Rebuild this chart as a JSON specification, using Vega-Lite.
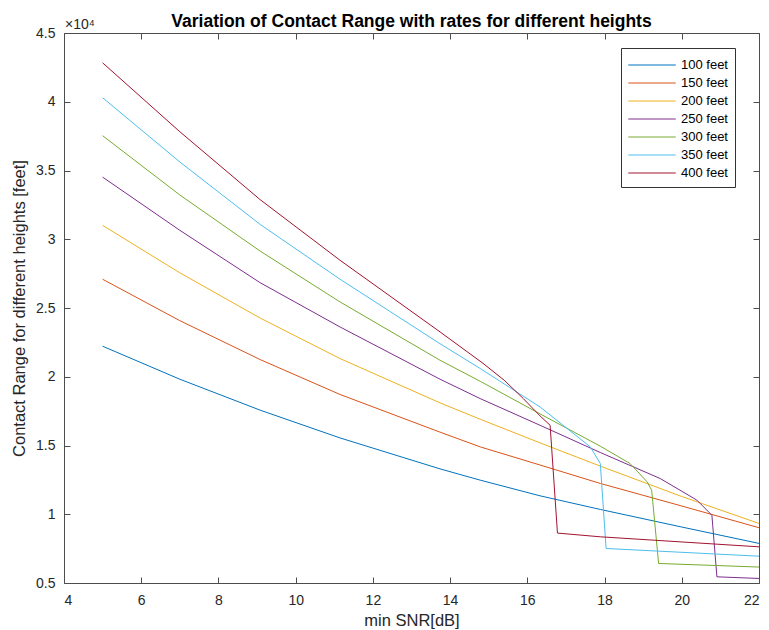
{
  "$schema": "https://vega.github.io/schema/vega-lite/v6.json",
  "width": 695,
  "height": 550,
  "autosize": {"type": "none"},
  "padding": {"left": 64, "top": 33, "right": 10, "bottom": 47},
  "background": "white",
  "title": {
    "text": "Variation of Contact Range with rates for different heights",
    "font": "Liberation Sans",
    "fontSize": 17.5,
    "fontWeight": "bold",
    "color": "#000000",
    "anchor": "middle",
    "offset": -12
  },
  "config": {
    "view": {"stroke": "#4d4d4d", "strokeWidth": 1},
    "axis": {
      "labelFont": "Liberation Sans",
      "titleFont": "Liberation Sans",
      "labelFontSize": 14,
      "labelColor": "#262626",
      "titleColor": "#262626",
      "titleFontSize": 16.5,
      "titleFontWeight": "normal",
      "domain": false,
      "tickColor": "#4d4d4d",
      "tickOpacity": 1,
      "tickWidth": 1,
      "tickSize": 6,
      "grid": false
    },
    "legend": {
      "labelFont": "Liberation Sans",
      "labelFontSize": 13,
      "labelColor": "#000000"
    }
  },
  "datasets": {
    "ranges": [
      {"height": "100 feet", "snr": 5, "range": 22220},
      {"height": "100 feet", "snr": 7, "range": 19820},
      {"height": "100 feet", "snr": 9.08, "range": 17570},
      {"height": "100 feet", "snr": 11.15, "range": 15550},
      {"height": "100 feet", "snr": 13.74, "range": 13300},
      {"height": "100 feet", "snr": 14.78, "range": 12480},
      {"height": "100 feet", "snr": 16.33, "range": 11340},
      {"height": "100 feet", "snr": 17.89, "range": 10350},
      {"height": "100 feet", "snr": 20, "range": 9070},
      {"height": "100 feet", "snr": 22, "range": 7880},

      {"height": "150 feet", "snr": 5, "range": 27090},
      {"height": "150 feet", "snr": 7, "range": 24080},
      {"height": "150 feet", "snr": 9.08, "range": 21250},
      {"height": "150 feet", "snr": 11.15, "range": 18710},
      {"height": "150 feet", "snr": 13.74, "range": 15970},
      {"height": "150 feet", "snr": 14.78, "range": 14900},
      {"height": "150 feet", "snr": 16.33, "range": 13580},
      {"height": "150 feet", "snr": 17.89, "range": 12240},
      {"height": "150 feet", "snr": 20, "range": 10600},
      {"height": "150 feet", "snr": 22, "range": 9020},

      {"height": "200 feet", "snr": 5, "range": 31010},
      {"height": "200 feet", "snr": 7, "range": 27560},
      {"height": "200 feet", "snr": 9.08, "range": 24270},
      {"height": "200 feet", "snr": 11.15, "range": 21320},
      {"height": "200 feet", "snr": 13.74, "range": 18100},
      {"height": "200 feet", "snr": 14.78, "range": 16910},
      {"height": "200 feet", "snr": 16.33, "range": 15190},
      {"height": "200 feet", "snr": 17.89, "range": 13500},
      {"height": "200 feet", "snr": 20, "range": 11290},
      {"height": "200 feet", "snr": 22, "range": 9330},

      {"height": "250 feet", "snr": 5, "range": 34520},
      {"height": "250 feet", "snr": 7, "range": 30650},
      {"height": "250 feet", "snr": 9.08, "range": 26840},
      {"height": "250 feet", "snr": 11.15, "range": 23620},
      {"height": "250 feet", "snr": 13.74, "range": 19820},
      {"height": "250 feet", "snr": 14.78, "range": 18410},
      {"height": "250 feet", "snr": 16.33, "range": 16470},
      {"height": "250 feet", "snr": 17.89, "range": 14490},
      {"height": "250 feet", "snr": 19.44, "range": 12600},
      {"height": "250 feet", "snr": 20.39, "range": 11030},
      {"height": "250 feet", "snr": 20.78, "range": 9930},
      {"height": "250 feet", "snr": 20.91, "range": 5450},
      {"height": "250 feet", "snr": 22, "range": 5330},

      {"height": "300 feet", "snr": 5, "range": 37530},
      {"height": "300 feet", "snr": 7, "range": 33220},
      {"height": "300 feet", "snr": 9.08, "range": 29140},
      {"height": "300 feet", "snr": 11.15, "range": 25440},
      {"height": "300 feet", "snr": 13.74, "range": 21200},
      {"height": "300 feet", "snr": 14.78, "range": 19670},
      {"height": "300 feet", "snr": 16.33, "range": 17300},
      {"height": "300 feet", "snr": 17.89, "range": 14950},
      {"height": "300 feet", "snr": 18.66, "range": 13690},
      {"height": "300 feet", "snr": 19.1, "range": 12360},
      {"height": "300 feet", "snr": 19.22, "range": 11750},
      {"height": "300 feet", "snr": 19.4, "range": 6420},
      {"height": "300 feet", "snr": 22, "range": 6160},

      {"height": "350 feet", "snr": 5, "range": 40290},
      {"height": "350 feet", "snr": 7, "range": 35620},
      {"height": "350 feet", "snr": 9.08, "range": 31080},
      {"height": "350 feet", "snr": 11.15, "range": 27090},
      {"height": "350 feet", "snr": 13.74, "range": 22400},
      {"height": "350 feet", "snr": 14.78, "range": 20600},
      {"height": "350 feet", "snr": 16.33, "range": 17800},
      {"height": "350 feet", "snr": 17.63, "range": 14900},
      {"height": "350 feet", "snr": 17.89, "range": 13690},
      {"height": "350 feet", "snr": 18.04, "range": 7510},
      {"height": "350 feet", "snr": 22, "range": 6950},

      {"height": "400 feet", "snr": 5, "range": 42830},
      {"height": "400 feet", "snr": 7, "range": 37820},
      {"height": "400 feet", "snr": 9.08, "range": 32880},
      {"height": "400 feet", "snr": 11.15, "range": 28470},
      {"height": "400 feet", "snr": 13.74, "range": 23260},
      {"height": "400 feet", "snr": 14.85, "range": 20980},
      {"height": "400 feet", "snr": 15.4, "range": 19750},
      {"height": "400 feet", "snr": 15.9, "range": 18400},
      {"height": "400 feet", "snr": 16.33, "range": 17150},
      {"height": "400 feet", "snr": 16.59, "range": 16470},
      {"height": "400 feet", "snr": 16.78, "range": 8630},
      {"height": "400 feet", "snr": 17.89, "range": 8360},
      {"height": "400 feet", "snr": 22, "range": 7630}
    ]
  },
  "layer": [
    {
      "data": {"name": "ranges"},
      "mark": {"type": "line", "strokeWidth": 1},
      "encoding": {
        "x": {
          "field": "snr",
          "type": "quantitative",
          "scale": {"domain": [4, 22], "nice": false, "zero": false},
          "axis": {
            "values": [4, 6, 8, 10, 12, 14, 16, 18, 20, 22],
            "title": "min SNR[dB]",
            "ticks": false,
            "labelPadding": 10,
            "titlePadding": 5
          }
        },
        "y": {
          "field": "range",
          "type": "quantitative",
          "scale": {"domain": [5000, 45000], "nice": false, "zero": false},
          "axis": {
            "values": [5000, 10000, 15000, 20000, 25000, 30000, 35000, 40000, 45000],
            "labelExpr": "format(datum.value / 10000, '.1~f')",
            "title": "Contact Range for different heights [feet]",
            "ticks": false,
            "labelPadding": 9,
            "titlePadding": 8
          }
        },
        "color": {
          "field": "height",
          "type": "nominal",
          "scale": {
            "domain": ["100 feet", "150 feet", "200 feet", "250 feet", "300 feet", "350 feet", "400 feet"],
            "range": ["#0072BD", "#D95319", "#EDB120", "#7E2F8E", "#77AC30", "#4DBEEE", "#A2142F"]
          },
          "legend": {
            "title": null,
            "orient": "none",
            "legendX": 557,
            "legendY": 15,
            "symbolType": "M-2.5,0H2.5",
            "symbolSize": 361,
            "symbolStrokeWidth": 1,
            "symbolOffset": 14,
            "labelOffset": 19,
            "rowPadding": 1,
            "strokeColor": "#333333",
            "fillColor": "#ffffff",
            "padding": 7,
            "labelExpr": "datum.label == '150 feet' ? '\u00a0150 feet' : datum.label"
          }
        }
      }
    },
    {
      "data": {"name": "ranges"},
      "mark": {"type": "line", "strokeOpacity": 0},
      "encoding": {
        "x": {
          "field": "snr",
          "type": "quantitative",
          "axis": {"orient": "top", "offset": -550, "values": [4, 6, 8, 10, 12, 14, 16, 18, 20, 22], "labels": false, "title": null, "ticks": true}
        },
        "y": {
          "field": "range",
          "type": "quantitative",
          "axis": {"orient": "right", "offset": -695, "values": [5000, 10000, 15000, 20000, 25000, 30000, 35000, 40000, 45000], "labels": false, "title": null, "ticks": true}
        }
      }
    },
    {
      "data": {"name": "ranges"},
      "mark": {"type": "line", "strokeOpacity": 0},
      "encoding": {
        "x": {
          "field": "snr",
          "type": "quantitative",
          "axis": {"orient": "bottom", "offset": -550, "values": [4, 6, 8, 10, 12, 14, 16, 18, 20, 22], "labels": false, "title": null, "ticks": true}
        },
        "y": {
          "field": "range",
          "type": "quantitative",
          "axis": {"orient": "left", "offset": -695, "values": [5000, 10000, 15000, 20000, 25000, 30000, 35000, 40000, 45000], "labels": false, "title": null, "ticks": true}
        }
      }
    },
    {
      "data": {"values": [{"note": "×10⁴"}]},
      "mark": {"type": "text", "align": "left", "baseline": "bottom", "dx": 1, "dy": -1, "fontSize": 14, "font": "Liberation Sans", "color": "#262626"},
      "encoding": {
        "text": {"field": "note"},
        "x": {"datum": 4, "type": "quantitative", "axis": null},
        "y": {"datum": 45000, "type": "quantitative", "axis": null}
      }
    }
  ],
  "resolve": {"axis": {"x": "independent", "y": "independent"}}
}
